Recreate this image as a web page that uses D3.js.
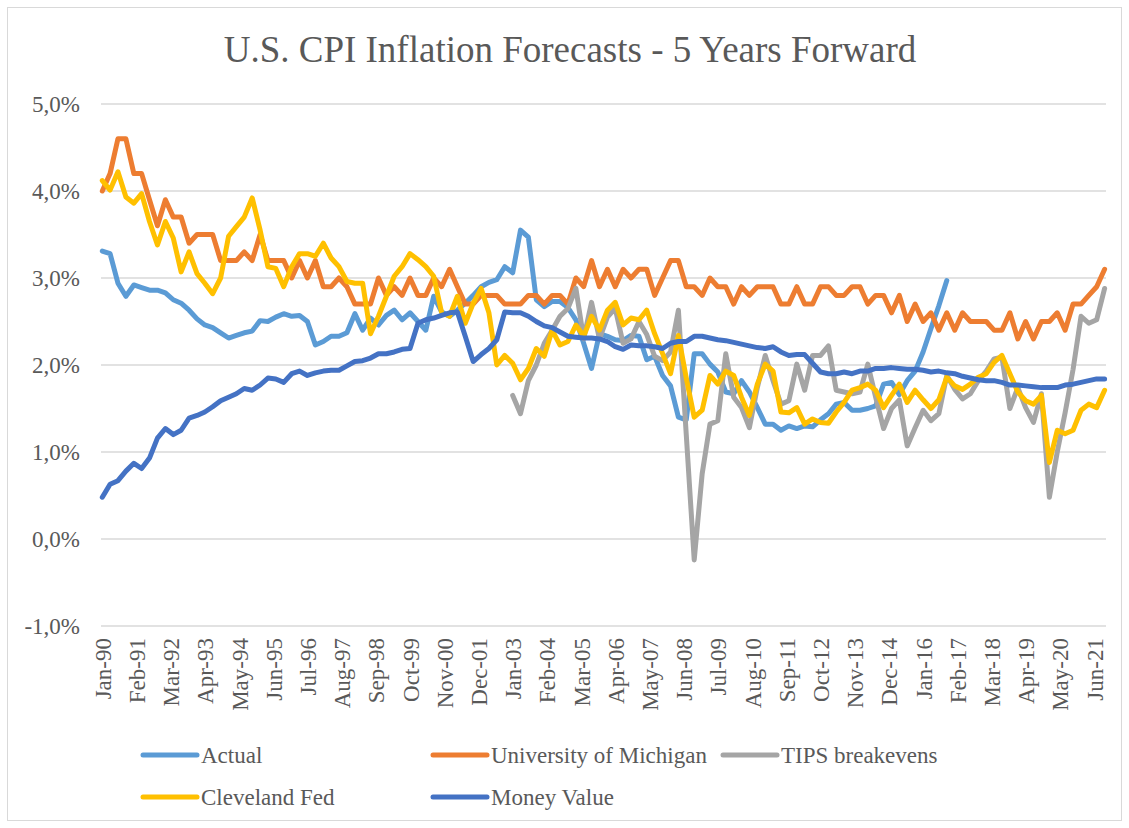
<!DOCTYPE html>
<html>
<head>
<meta charset="utf-8">
<script src="https://cdn.jsdelivr.net/npm/d3@7"></script>
<style>
  body { margin: 0; background: #fff; }
  text { font-family: "Liberation Serif", "Times New Roman", serif; fill: #595959; }
</style>
</head>
<body>
<svg id="chart"></svg>
<script>
// quarterly observations (Jan, Apr, Jul, Oct), first one Jan-90
const firstQuarter = new Date(1990, 0, 1);
const tipsFirstQuarter = new Date(2003, 0, 1);

// Actual (realised 5y forward), Jan-90 .. Oct-16
const actual = [
  3.31, 3.28, 2.94, 2.79, 2.92, 2.89, 2.86, 2.86, 2.83, 2.75,
  2.71, 2.63, 2.53, 2.46, 2.43, 2.37, 2.31, 2.34, 2.37, 2.39,
  2.51, 2.50, 2.55, 2.59, 2.56, 2.57, 2.50, 2.23, 2.27, 2.33,
  2.33, 2.37, 2.59, 2.40, 2.54, 2.46, 2.57, 2.63, 2.52, 2.60,
  2.50, 2.40, 2.79, 2.61, 2.56, 2.63, 2.71, 2.80, 2.90, 2.95,
  2.98, 3.13, 3.06, 3.55, 3.47, 2.75, 2.67, 2.73, 2.73, 2.66,
  2.52, 2.25, 1.96, 2.36, 2.33, 2.29, 2.28, 2.34, 2.33, 2.06,
  2.10, 1.88, 1.76, 1.40, 1.37, 2.13, 2.13, 2.01, 1.92, 1.69,
  1.67, 1.82, 1.69, 1.51, 1.32, 1.32, 1.25, 1.30, 1.27, 1.30,
  1.29, 1.37, 1.44, 1.55, 1.57, 1.48, 1.48, 1.50, 1.53, 1.78,
  1.80, 1.66, 1.82, 1.93, 2.15, 2.42, 2.68, 2.97
];

// University of Michigan survey, Jan-90 .. Oct-21
const michigan = [
  4.0, 4.2, 4.6, 4.6, 4.2, 4.2, 3.9, 3.6, 3.9, 3.7,
  3.7, 3.4, 3.5, 3.5, 3.5, 3.2, 3.2, 3.2, 3.3, 3.2,
  3.5, 3.2, 3.2, 3.2, 3.0, 3.2, 3.0, 3.2, 2.9, 2.9,
  3.0, 2.9, 2.7, 2.7, 2.7, 3.0, 2.8, 2.9, 2.8, 3.0,
  2.8, 2.8, 3.0, 2.9, 3.1, 2.9, 2.7, 2.7, 2.8, 2.8,
  2.8, 2.7, 2.7, 2.7, 2.8, 2.8, 2.7, 2.8, 2.8, 2.7,
  3.0, 2.9, 3.2, 2.9, 3.1, 2.9, 3.1, 3.0, 3.1, 3.1,
  2.8, 3.0, 3.2, 3.2, 2.9, 2.9, 2.8, 3.0, 2.9, 2.9,
  2.7, 2.9, 2.8, 2.9, 2.9, 2.9, 2.7, 2.7, 2.9, 2.7,
  2.7, 2.9, 2.9, 2.8, 2.8, 2.9, 2.9, 2.7, 2.8, 2.8,
  2.6, 2.8, 2.5, 2.7, 2.5, 2.6, 2.4, 2.6, 2.4, 2.6,
  2.5, 2.5, 2.5, 2.4, 2.4, 2.6, 2.3, 2.5, 2.3, 2.5,
  2.5, 2.6, 2.4, 2.7, 2.7, 2.8, 2.9, 3.1
];

// TIPS breakevens, Jan-03 .. Oct-21
const tips = [
  1.65, 1.44, 1.82, 2.00, 2.25, 2.40, 2.56, 2.65, 2.88, 2.30,
  2.72, 2.30, 2.55, 2.65, 2.25, 2.30, 2.50, 2.35, 2.10, 2.05,
  2.15, 2.63, 1.20, -0.24, 0.75, 1.32, 1.36, 2.13, 1.63, 1.51,
  1.28, 1.74, 2.11, 1.82, 1.55, 1.59, 2.01, 1.71, 2.11, 2.11,
  2.22, 1.71, 1.69, 1.67, 1.69, 2.01, 1.63, 1.27, 1.50, 1.60,
  1.07, 1.28, 1.48, 1.36, 1.44, 1.88, 1.72, 1.61, 1.67, 1.82,
  1.93, 2.07, 2.09, 1.50, 1.74, 1.51, 1.34, 1.67, 0.48, 1.00,
  1.45, 1.95, 2.56, 2.48, 2.52, 2.88
];

// Cleveland Fed model, Jan-90 .. Oct-21
const cleveland = [
  4.12, 4.01, 4.22, 3.93, 3.86, 3.97, 3.65, 3.38, 3.65, 3.46,
  3.07, 3.30, 3.05, 2.94, 2.82, 3.00, 3.48, 3.59, 3.70, 3.92,
  3.55, 3.13, 3.11, 2.90, 3.13, 3.28, 3.28, 3.25, 3.40, 3.23,
  3.13, 2.96, 2.94, 2.94, 2.36, 2.56, 2.79, 3.02, 3.13, 3.28,
  3.21, 3.13, 3.02, 2.60, 2.56, 2.79, 2.48, 2.71, 2.88, 2.60,
  2.00, 2.11, 2.02, 1.83, 1.96, 2.19, 2.10, 2.40, 2.23, 2.27,
  2.46, 2.33, 2.56, 2.40, 2.63, 2.72, 2.46, 2.54, 2.52, 2.63,
  2.36, 2.13, 1.90, 2.34, 1.85, 1.40, 1.48, 1.88, 1.78, 1.93,
  1.88, 1.63, 1.42, 1.78, 2.01, 1.93, 1.46, 1.45, 1.51, 1.32,
  1.38, 1.34, 1.33, 1.46, 1.57, 1.71, 1.74, 1.78, 1.71, 1.51,
  1.65, 1.78, 1.57, 1.71, 1.60, 1.50, 1.60, 1.86, 1.76, 1.72,
  1.78, 1.86, 1.90, 2.03, 2.11, 1.90, 1.69, 1.59, 1.55, 1.65,
  0.88, 1.25, 1.21, 1.25, 1.48, 1.55, 1.51, 1.71
];

// Money Value, Jan-90 .. Oct-21
const moneyValue = [
  0.48, 0.63, 0.67, 0.78, 0.87, 0.81, 0.93, 1.16, 1.27, 1.20,
  1.25, 1.39, 1.42, 1.46, 1.52, 1.59, 1.63, 1.67, 1.73, 1.71,
  1.77, 1.85, 1.84, 1.80, 1.90, 1.93, 1.88, 1.91, 1.93, 1.94,
  1.94, 1.99, 2.04, 2.05, 2.08, 2.13, 2.13, 2.15, 2.18, 2.19,
  2.48, 2.52, 2.54, 2.57, 2.60, 2.61, 2.33, 2.04, 2.12, 2.19,
  2.29, 2.61, 2.60, 2.60, 2.56, 2.50, 2.45, 2.43, 2.38, 2.33,
  2.32, 2.31, 2.31, 2.30, 2.27, 2.21, 2.18, 2.23, 2.22, 2.22,
  2.21, 2.19, 2.25, 2.27, 2.27, 2.33, 2.33, 2.31, 2.29, 2.28,
  2.26, 2.24, 2.22, 2.20, 2.19, 2.21, 2.15, 2.11, 2.12, 2.12,
  2.02, 1.92, 1.90, 1.90, 1.92, 1.90, 1.93, 1.93, 1.96, 1.96,
  1.97, 1.96, 1.95, 1.95, 1.94, 1.92, 1.93, 1.91, 1.90, 1.87,
  1.85, 1.83, 1.82, 1.82, 1.80, 1.77, 1.77, 1.76, 1.75, 1.74,
  1.74, 1.74, 1.77, 1.78, 1.80, 1.82, 1.84, 1.84
];

const seriesNames = ["Actual", "University of Michigan", "TIPS breakevens", "Cleveland Fed", "Money Value"];
const seriesColors = ["#5b9bd5", "#ed7d31", "#a5a5a5", "#ffc000", "#4472c4"];
const yTicks = [-1, 0, 1, 2, 3, 4, 5];
const labelStepMonths = 13;

// setup
const width = 1129;
const height = 828;
const plot = { left: 101, right: 1106, top: 104, bottom: 626 };

const svg = d3.select("#chart").attr("width", width).attr("height", height);

// chart border
svg.append("rect")
   .attr("x", 7.5).attr("y", 7.5)
   .attr("width", width - 15).attr("height", height - 15)
   .attr("fill", "#fff")
   .attr("stroke", "#d9d9d9")
   .attr("stroke-width", 1);

// title
svg.append("text")
   .attr("x", 570)
   .attr("y", 62)
   .attr("text-anchor", "middle")
   .style("font-size", "37px")
   .text("U.S. CPI Inflation Forecasts - 5 Years Forward");

const toPoints = (values, start) =>
   values.map((v, i) => ({ date: d3.timeMonth.offset(start, 3 * i), value: v }));

const series = [
   toPoints(actual, firstQuarter),
   toPoints(michigan, firstQuarter),
   toPoints(tips, tipsFirstQuarter),
   toPoints(cleveland, firstQuarter),
   toPoints(moneyValue, firstQuarter)
];

const lastDate = d3.max(series, (s) => s[s.length - 1].date);

// x scale (date axis, half a month padding on each side)
const xScale = d3
   .scaleTime()
   .domain([d3.timeDay.offset(firstQuarter, -15), d3.timeDay.offset(lastDate, 16)])
   .range([plot.left, plot.right]);

// y scale
const yScale = d3.scaleLinear().domain([-1, 5]).range([plot.bottom, plot.top]);

// gridlines
svg.append("g")
   .selectAll("line")
   .data(yTicks)
   .enter()
   .append("line")
   .attr("x1", plot.left)
   .attr("x2", plot.right)
   .attr("y1", (d) => yScale(d))
   .attr("y2", (d) => yScale(d))
   .attr("stroke", "#d9d9d9")
   .attr("stroke-width", 1.3);

// y axis labels (plain hyphen for negatives, comma decimal)
const yAxis = d3
   .axisLeft(yScale)
   .tickValues(yTicks)
   .tickSize(0)
   .tickPadding(0)
   .tickFormat((d) => d3.format(".1f")(d).replace("\u2212", "-").replace(".", ",") + "%");

svg.append("g")
   .attr("transform", `translate(80, 0)`)
   .call(yAxis)
   .call((g) => g.select(".domain").remove())
   .selectAll("text")
   .style("font-size", "23px")
   .attr("fill", "#595959");

// x axis labels
const xTickDates = d3
   .range(0, d3.timeMonth.count(firstQuarter, lastDate) + 1, labelStepMonths)
   .map((m) => d3.timeMonth.offset(firstQuarter, m));

const xAxis = d3
   .axisBottom(xScale)
   .tickValues(xTickDates)
   .tickSize(0)
   .tickPadding(0)
   .tickFormat(d3.timeFormat("%b-%y"));

svg.append("g")
   .attr("transform", `translate(0, ${plot.bottom + 12})`)
   .call(xAxis)
   .call((g) => g.select(".domain").remove())
   .selectAll("text")
   .style("font-size", "23px")
   .attr("fill", "#595959")
   .attr("text-anchor", "end")
   .attr("dy", "0.35em")
   .attr("transform", "rotate(-90)");

// lines
const line = d3
   .line()
   .x((d) => xScale(d.date))
   .y((d) => yScale(d.value));

svg.append("g")
   .selectAll("path")
   .data(series)
   .enter()
   .append("path")
   .attr("d", line)
   .attr("fill", "none")
   .attr("stroke", (d, i) => seriesColors[i])
   .attr("stroke-width", 5)
   .attr("stroke-linejoin", "round")
   .attr("stroke-linecap", "round");

// legend
const legendPos = [
   { x: 143, y: 755 },
   { x: 433, y: 755 },
   { x: 723, y: 755 },
   { x: 143, y: 797 },
   { x: 433, y: 797 }
];

const legend = svg
   .append("g")
   .selectAll("g")
   .data(seriesNames)
   .enter()
   .append("g")
   .attr("transform", (d, i) => `translate(${legendPos[i].x}, ${legendPos[i].y})`);

legend.append("line")
   .attr("x1", 0)
   .attr("x2", 54)
   .attr("stroke", (d, i) => seriesColors[i])
   .attr("stroke-width", 5)
   .attr("stroke-linecap", "round");

legend.append("text")
   .attr("x", 58)
   .attr("dy", "0.35em")
   .style("font-size", "23px")
   .text((d) => d);
</script>
</body>
</html>
